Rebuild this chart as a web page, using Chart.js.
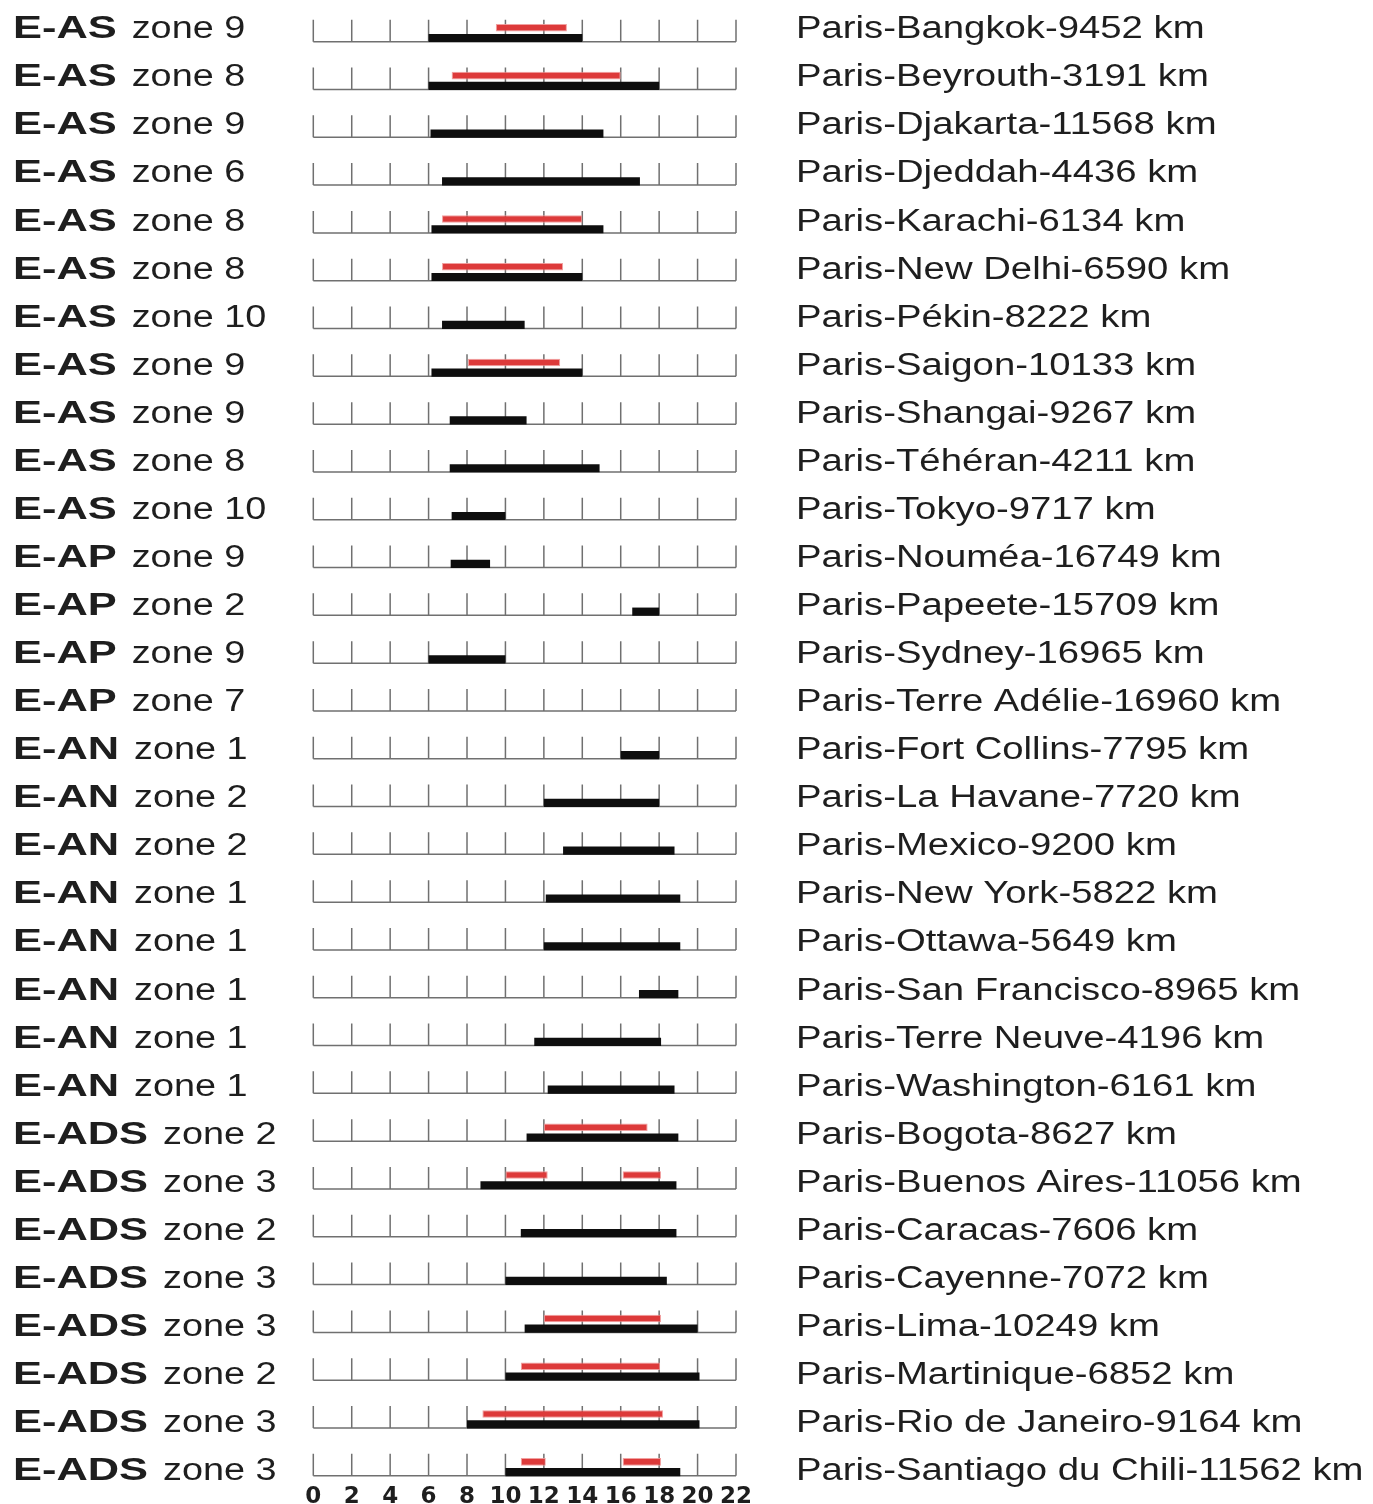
<!DOCTYPE html>
<html>
<head>
<meta charset="utf-8">
<script src="https://cdn.jsdelivr.net/npm/chart.js@4.4.1/dist/chart.umd.min.js"></script>
<style>
  body { margin: 0; background: #fff; }
  #chart { display: block; }
</style>
</head>
<body>
<canvas id="chart" width="1373" height="1504"></canvas>
<script>
// left label: region code + zone
const regions = ['E-AS','E-AS','E-AS','E-AS','E-AS','E-AS','E-AS','E-AS','E-AS','E-AS','E-AS',
  'E-AP','E-AP','E-AP','E-AP',
  'E-AN','E-AN','E-AN','E-AN','E-AN','E-AN','E-AN','E-AN',
  'E-ADS','E-ADS','E-ADS','E-ADS','E-ADS','E-ADS','E-ADS','E-ADS'];
const zones = [9, 8, 9, 6, 8, 8, 10, 9, 9, 8, 10,
  9, 2, 9, 7,
  1, 2, 2, 1, 1, 1, 1, 1,
  2, 3, 2, 3, 3, 2, 3, 3];
const routes = [
  'Paris-Bangkok-9452 km', 'Paris-Beyrouth-3191 km', 'Paris-Djakarta-11568 km',
  'Paris-Djeddah-4436 km', 'Paris-Karachi-6134 km', 'Paris-New Delhi-6590 km',
  'Paris-Pékin-8222 km', 'Paris-Saigon-10133 km', 'Paris-Shangai-9267 km',
  'Paris-Téhéran-4211 km', 'Paris-Tokyo-9717 km', 'Paris-Nouméa-16749 km',
  'Paris-Papeete-15709 km', 'Paris-Sydney-16965 km', 'Paris-Terre Adélie-16960 km',
  'Paris-Fort Collins-7795 km', 'Paris-La Havane-7720 km', 'Paris-Mexico-9200 km',
  'Paris-New York-5822 km', 'Paris-Ottawa-5649 km', 'Paris-San Francisco-8965 km',
  'Paris-Terre Neuve-4196 km', 'Paris-Washington-6161 km', 'Paris-Bogota-8627 km',
  'Paris-Buenos Aires-11056 km', 'Paris-Caracas-7606 km', 'Paris-Cayenne-7072 km',
  'Paris-Lima-10249 km', 'Paris-Martinique-6852 km', 'Paris-Rio de Janeiro-9164 km',
  'Paris-Santiago du Chili-11562 km'
];
// black bars (hours)
const blackBars = [
  [6, 14], [6, 18], [6.1, 15.1], [6.7, 17], [6.15, 15.1], [6.15, 14],
  [6.7, 11], [6.15, 14], [7.1, 11.1], [7.1, 14.9], [7.2, 10],
  [7.15, 9.2], [16.6, 18], [6, 10], null,
  [16, 18], [12, 18], [13, 18.8], [12.1, 19.1], [12, 19.1], [16.95, 19],
  [11.5, 18.1], [12.2, 18.8],
  [11.1, 19], [8.7, 18.9], [10.8, 18.9], [10, 18.4], [11, 20], [10, 20.1],
  [8, 20.1], [10, 19.1]
];
// red bars, first segment
const redBars = [
  [9.5, 13.2], [7.2, 16], null, null, [6.7, 14], [6.7, 13],
  null, [8.05, 12.85], null, null, null,
  null, null, null, null,
  null, null, null, null, null, null, null, null,
  [12, 17.4], [10, 12.2], null, null, [12, 18.1], [10.8, 18.05],
  [8.8, 18.2], [10.8, 12.1]
];
// red bars, second segment
const redBars2 = [
  null, null, null, null, null, null, null, null, null, null, null,
  null, null, null, null,
  null, null, null, null, null, null, null, null,
  null, [16.1, 18.1], null, null, null, null,
  null, [16.1, 18.1]
];
const xTicks = [0, 2, 4, 6, 8, 10, 12, 14, 16, 18, 20, 22];

const BASE_OFF = 8.8; // row baseline below category centre

function stretchText(ctx, text, x, y, sx) {
  ctx.save();
  ctx.translate(x, y);
  ctx.scale(sx, 1);
  ctx.fillText(text, 0, 0);
  ctx.restore();
  return ctx.measureText(text).width * sx;
}

const rowAxes = {
  id: 'rowAxes',
  beforeDatasetsDraw(chart) {
    const ctx = chart.ctx;
    const xs = chart.scales.x, ys = chart.scales.y;
    ctx.save();
    ctx.strokeStyle = '#707070';
    ctx.lineWidth = 1.5;
    routes.forEach((r, i) => {
      const yb = ys.getPixelForValue(i) + BASE_OFF;
      ctx.beginPath();
      ctx.moveTo(xs.getPixelForValue(xTicks[0]), yb);
      ctx.lineTo(xs.getPixelForValue(xTicks[xTicks.length - 1]), yb);
      xTicks.forEach(t => {
        const xp = xs.getPixelForValue(t);
        ctx.moveTo(xp, yb);
        ctx.lineTo(xp, yb - 22);
      });
      ctx.stroke();
    });
    ctx.restore();
  },
  afterDraw(chart) {
    const ctx = chart.ctx;
    const ys = chart.scales.y;
    ctx.save();
    ctx.fillStyle = '#1e1e1e';
    ctx.textBaseline = 'alphabetic';
    routes.forEach((r, i) => {
      // text rows are spaced a touch wider than the axis rows
      const yb = ys.getPixelForValue(i) + BASE_OFF - 3.4 + 0.257 * i;
      ctx.font = 'bold 31px "Liberation Sans", Arial, sans-serif';
      const w = stretchText(ctx, regions[i], 13, yb, 1.4);
      ctx.font = '31px "Liberation Sans", Arial, sans-serif';
      stretchText(ctx, 'zone ' + zones[i], 13 + w + 15, yb, 1.22);
      stretchText(ctx, r, 796, yb, 1.235);
    });
    ctx.restore();
  }
};

const redStyle = {
  stack: 'red',
  backgroundColor: '#dd3a3a',
  borderColor: 'rgba(240,150,150,0.9)',
  borderWidth: 1,
  borderSkipped: false,
  barPercentage: 0.74,
  categoryPercentage: 0.427,
  clip: false
};

new Chart('chart', {
  type: 'bar',
  data: {
    labels: routes,
    datasets: [
      Object.assign({ data: redBars }, redStyle),
      Object.assign({ data: redBars2 }, redStyle),
      {
        data: blackBars,
        stack: 'black',
        backgroundColor: '#0e0e0e',
        barPercentage: 0.8,
        categoryPercentage: 0.427,
        clip: false
      }
    ]
  },
  options: {
    indexAxis: 'y',
    responsive: false,
    animation: false,
    devicePixelRatio: 1,
    layout: { padding: { left: 313.3, right: 637, top: 32.9, bottom: 0 } },
    plugins: {
      legend: { display: false },
      tooltip: { enabled: false }
    },
    scales: {
      x: {
        type: 'linear',
        min: 0,
        max: 22,
        stacked: false,
        grid: { display: false, drawTicks: false },
        border: { display: false },
        afterFit(scale) { scale.height = 37; },
        afterBuildTicks(scale) { scale.ticks = xTicks.map(v => ({ value: v })); },
        ticks: {
          padding: 16,
          color: '#1e1e1e',
          font: { family: 'DejaVu Sans', weight: 'bold', size: 23 }
        }
      },
      y: {
        type: 'category',
        offset: false,
        stacked: true,
        display: false
      }
    }
  },
  plugins: [rowAxes]
});
</script>
</body>
</html>
